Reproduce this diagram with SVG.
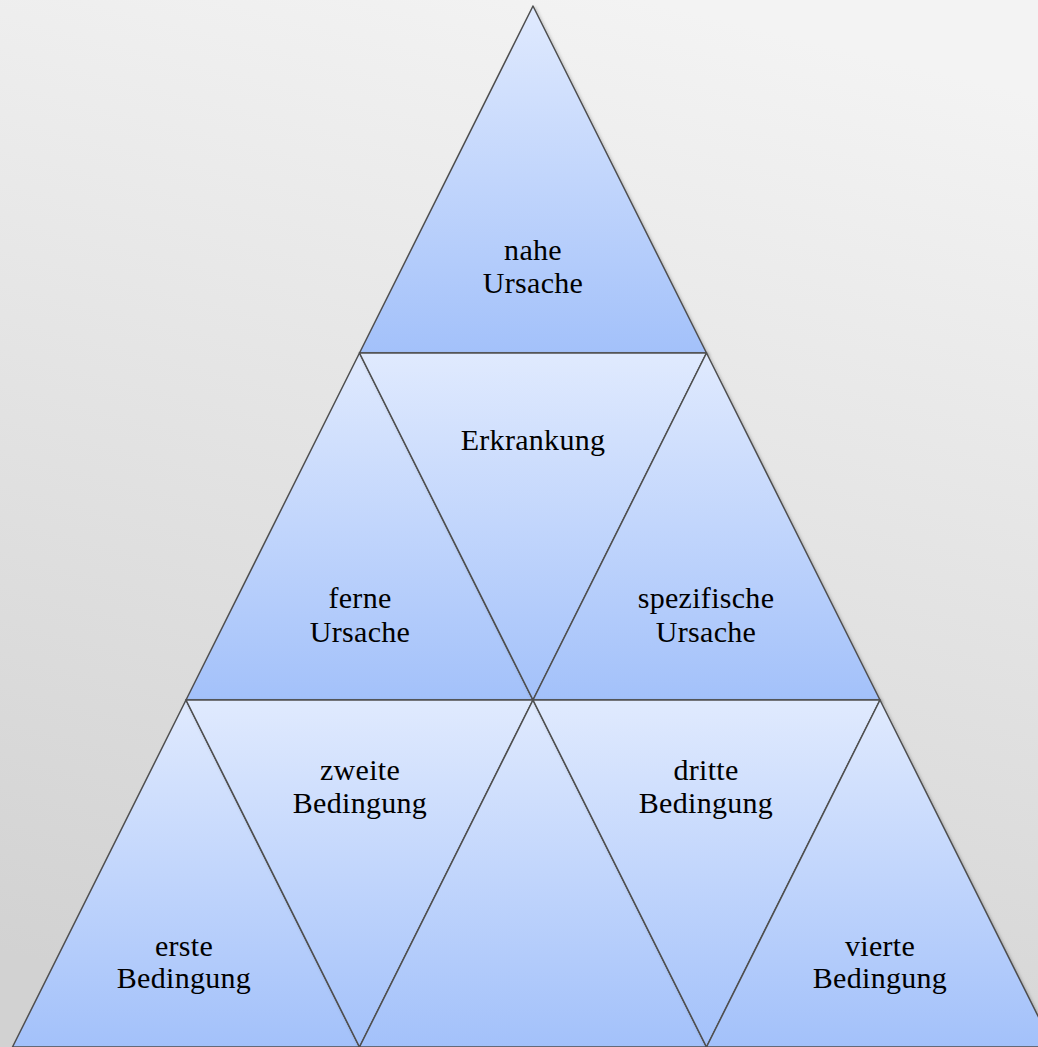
<svg xmlns="http://www.w3.org/2000/svg" width="1038" height="1047" viewBox="0 0 1038 1047">
<defs>
<linearGradient id="bg" x1="0.62" y1="0" x2="0.38" y2="1">
<stop offset="0" stop-color="#f3f3f3"/>
<stop offset="1" stop-color="#d2d2d2"/>
</linearGradient>
<linearGradient id="tri" x1="0" y1="0" x2="0" y2="1">
<stop offset="0" stop-color="#e0eafe"/>
<stop offset="1" stop-color="#a3c1fa"/>
</linearGradient>
<filter id="sh" x="-5%" y="-5%" width="110%" height="110%">
<feDropShadow dx="1.5" dy="1.5" stdDeviation="1.5" flood-color="#000" flood-opacity="0.25"/>
</filter>
</defs>
<style>
.t{fill:url(#tri);stroke:#4f4f4f;stroke-width:1.5;stroke-linejoin:round;filter:url(#sh)}
.l{font-family:"Liberation Serif","Times New Roman",serif;font-size:30px;letter-spacing:0.3px;fill:#000;text-anchor:middle}
</style>
<rect x="0" y="0" width="1038" height="1047" fill="url(#bg)"/>
<g id="n1"><polygon class="t" points="533,6 359.5,353 706.5,353"/><text class="l" x="533" y="260">nahe</text><text class="l" x="533" y="293">Ursache</text></g>
<g id="n2"><polygon class="t" points="359.5,353 186,700 533,700"/><text class="l" x="360" y="608">ferne</text><text class="l" x="360" y="642">Ursache</text></g>
<g id="n3"><polygon class="t" points="359.5,353 706.5,353 533,700"/><text class="l" x="533" y="450">Erkrankung</text></g>
<g id="n4"><polygon class="t" points="706.5,353 533,700 880,700"/><text class="l" x="706" y="608">spezifische</text><text class="l" x="706" y="642">Ursache</text></g>
<g id="n5"><polygon class="t" points="186,700 12.5,1047 359.5,1047"/><text class="l" x="184" y="956">erste</text><text class="l" x="184" y="988">Bedingung</text></g>
<g id="n6"><polygon class="t" points="186,700 533,700 359.5,1047"/><text class="l" x="360" y="780">zweite</text><text class="l" x="360" y="813">Bedingung</text></g>
<g id="n7"><polygon class="t" points="533,700 359.5,1047 706.5,1047"/></g>
<g id="n8"><polygon class="t" points="533,700 880,700 706.5,1047"/><text class="l" x="706" y="780">dritte</text><text class="l" x="706" y="813">Bedingung</text></g>
<g id="n9"><polygon class="t" points="880,700 706.5,1047 1053.5,1047"/><text class="l" x="880" y="956">vierte</text><text class="l" x="880" y="988">Bedingung</text></g>
</svg>
